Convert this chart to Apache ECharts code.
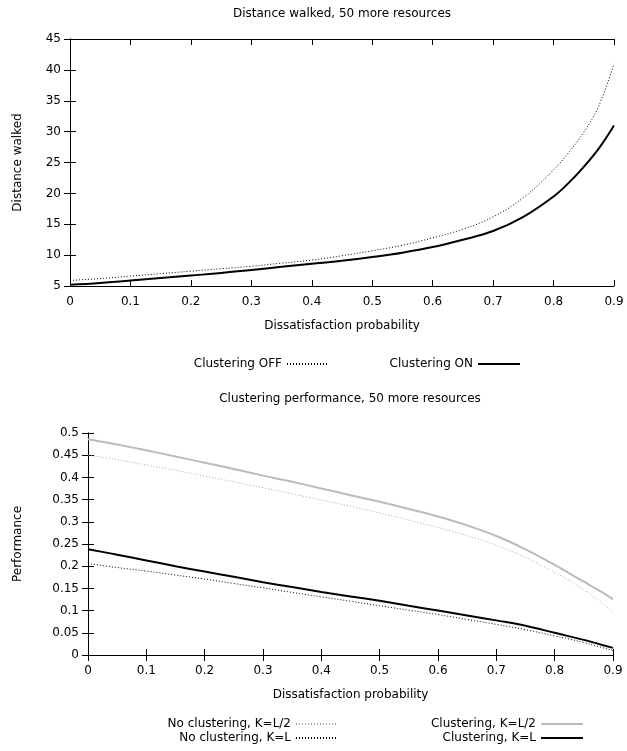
<!DOCTYPE html>
<html>
<head>
<meta charset="utf-8">
<script src="https://cdn.jsdelivr.net/npm/echarts@6/dist/echarts.min.js"></script>
<style>html,body{margin:0;padding:0;background:#fff}#c{width:627px;height:751px}</style>
</head>
<body>
<div id="c"></div>
<script>
// ---- data ----
const xs = [0,0.05,0.1,0.15,0.2,0.25,0.3,0.35,0.4,0.45,0.5,0.55,0.6,0.65,0.7,0.75,0.8,0.825,0.85,0.875,0.9];
const clusteringOff = [5.9,6.2,6.6,7.0,7.4,7.8,8.2,8.7,9.2,9.9,10.7,11.6,12.8,14.2,16.2,19.3,23.8,26.6,29.9,34.2,41];
const clusteringOn  = [5.2,5.5,5.9,6.3,6.7,7.1,7.6,8.1,8.6,9.1,9.7,10.4,11.3,12.5,13.9,16.2,19.5,21.7,24.3,27.3,31];
const noClusterHalf = [0.450,0.440,0.428,0.416,0.403,0.390,0.377,0.363,0.349,0.335,0.320,0.304,0.287,0.269,0.247,0.220,0.186,0.168,0.147,0.124,0.097];
const noClusterFull = [0.206,0.197,0.189,0.180,0.171,0.161,0.151,0.141,0.131,0.121,0.111,0.101,0.091,0.080,0.069,0.057,0.043,0.036,0.028,0.019,0.010];
const clusterHalf   = [0.486,0.474,0.461,0.447,0.433,0.419,0.404,0.390,0.375,0.360,0.345,0.329,0.312,0.292,0.268,0.238,0.203,0.184,0.165,0.146,0.126];
const clusterFull   = [0.238,0.226,0.213,0.200,0.188,0.176,0.164,0.153,0.142,0.132,0.122,0.111,0.100,0.089,0.078,0.066,0.050,0.042,0.034,0.025,0.016];

const titles = ['Distance walked, 50 more resources', 'Clustering performance, 50 more resources'];
const xName = 'Dissatisfaction probability';
const yNames = ['Distance walked', 'Performance'];

// ---- chart ----
const FONT = 'DejaVu Sans';
const txt = {fontFamily: FONT, fontSize: 12, color: '#000'};
const pairs = ys => xs.map((x, i) => [x, ys[i]]);
const fmt = v => String(+v.toFixed(2));

function xAxes(gi) {
  return [
    {gridIndex: gi, type: 'value', position: 'bottom', min: 0, max: 0.9, interval: 0.1,
     name: xName, nameLocation: 'middle', nameGap: 34, nameTextStyle: txt,
     axisLine: {show: true, lineStyle: {color: '#000', width: 1}},
     axisTick: {show: true, inside: true, length: 6, lineStyle: {color: '#000'}},
     axisLabel: Object.assign({margin: 10, formatter: fmt}, txt), splitLine: {show: false}},
    {gridIndex: gi, type: 'value', position: 'top', min: 0, max: 0.9, interval: 0.1,
     axisLine: {show: true, lineStyle: {color: '#000', width: 1}},
     axisTick: {show: true, inside: true, length: 6, lineStyle: {color: '#000'}},
     axisLabel: {show: false}, splitLine: {show: false}}
  ];
}
function yAxes(gi, min, max, interval, gap) {
  return [
    {gridIndex: gi, type: 'value', position: 'left', min, max, interval,
     name: yNames[gi], nameLocation: 'middle', nameGap: gap, nameTextStyle: txt,
     axisLine: {show: true, lineStyle: {color: '#000', width: 1}},
     axisTick: {show: true, inside: true, length: 6, lineStyle: {color: '#000'}},
     axisLabel: Object.assign({margin: 9, formatter: fmt}, txt), splitLine: {show: false}},
    {gridIndex: gi, type: 'value', position: 'right', min, max, interval,
     axisLine: {show: true, lineStyle: {color: '#000', width: 1}},
     axisTick: {show: true, inside: true, length: 6, lineStyle: {color: '#000'}},
     axisLabel: {show: false}, splitLine: {show: false}}
  ];
}
function line(name, data, xi, yi, color, width, dotted) {
  return {name, type: 'line', data: pairs(data), xAxisIndex: xi, yAxisIndex: yi,
    symbol: 'none', smooth: 0.4, animation: false,
    lineStyle: {color, width, type: dotted ? [1, 2] : 'solid'}, itemStyle: {color}};
}
function leg(name, right, top) {
  return {data: [name], right, top, padding: 0, itemWidth: 42, itemHeight: 12,
    align: 'right', textStyle: txt, selectedMode: false,
    itemStyle: {opacity: 0, borderWidth: 0}};
}

const option = {
  animation: false,
  title: [
    {text: titles[0], left: 342, top: 8, textAlign: 'center', padding: 0,
     textStyle: Object.assign({fontWeight: 'normal'}, txt)},
    {text: titles[1], left: 350, top: 393, textAlign: 'center', padding: 0,
     textStyle: Object.assign({fontWeight: 'normal'}, txt)}
  ],
  grid: [
    {left: 70, right: 13, top: 39, height: 247},
    {left: 88, right: 14, top: 433, height: 222}
  ],
  xAxis: [...xAxes(0), ...xAxes(1)],
  yAxis: [...yAxes(0, 5, 45, 5, 46), ...yAxes(1, 0, 0.5, 0.05, 64)],
  legend: [
    leg('Clustering OFF', 297, 358),
    leg('Clustering ON', 106, 358),
    leg('No clustering, K=L/2', 288, 718),
    leg('No clustering, K=L', 288, 732),
    leg('Clustering, K=L/2', 43, 718),
    leg('Clustering, K=L', 43, 732)
  ],
  series: [
    line('Clustering OFF', clusteringOff, 0, 0, '#000', 1, true),
    line('Clustering ON', clusteringOn, 0, 0, '#000', 2, false),
    line('No clustering, K=L/2', noClusterHalf, 2, 2, '#aaaaaa', 1, true),
    line('No clustering, K=L', noClusterFull, 2, 2, '#000', 1, true),
    line('Clustering, K=L/2', clusterHalf, 2, 2, '#bbbbbb', 2, false),
    line('Clustering, K=L', clusterFull, 2, 2, '#000', 2, false)
  ]
};
const chart = echarts.init(document.getElementById('c'), null, {renderer: 'canvas'});
chart.setOption(option);
</script>
</body>
</html>
